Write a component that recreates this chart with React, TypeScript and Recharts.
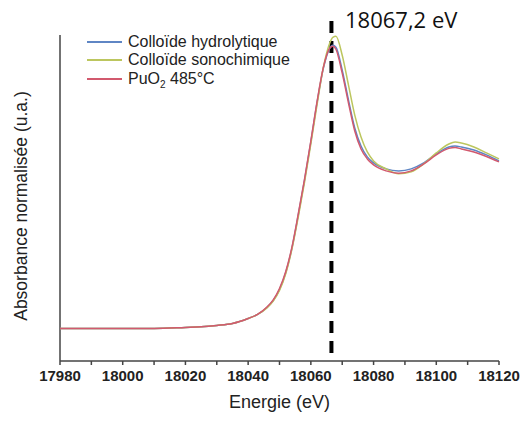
import { LineChart, Line, XAxis, YAxis, ReferenceLine } from 'recharts';

// energies (eV)
const energies = [
  17980, 17990, 18000, 18010, 18020, 18025, 18030, 18035, 18040, 18043,
  18046, 18048, 18050, 18052, 18054, 18056, 18058, 18060, 18062, 18064,
  18066, 18067, 18068, 18070, 18072, 18074, 18076, 18078, 18080, 18084,
  18088, 18092, 18096, 18100, 18104, 18106, 18108, 18112, 18116, 18120,
];

const hydrolytique = [
  0, 0, 0, 0, 0.005, 0.008, 0.015, 0.025, 0.05, 0.07,
  0.105, 0.14, 0.195, 0.28, 0.405, 0.57, 0.745, 0.935, 1.135, 1.305,
  1.405, 1.42, 1.41, 1.295, 1.145, 1.005, 0.915, 0.86, 0.83, 0.8,
  0.79, 0.8, 0.83, 0.875, 0.91, 0.915, 0.91, 0.895, 0.87, 0.84,
];

const sonochimique = [
  0, 0, 0, 0, 0.005, 0.008, 0.015, 0.025, 0.05, 0.07,
  0.103, 0.137, 0.19, 0.275, 0.4, 0.56, 0.735, 0.925, 1.125, 1.31,
  1.43, 1.46, 1.465, 1.37, 1.22, 1.07, 0.96, 0.885, 0.84, 0.8,
  0.775, 0.785, 0.825, 0.88, 0.925, 0.935, 0.93, 0.91, 0.88, 0.85,
];

const puo2 = [
  0, 0, 0, 0, 0.005, 0.008, 0.015, 0.025, 0.05, 0.07,
  0.107, 0.143, 0.2, 0.285, 0.41, 0.575, 0.75, 0.94, 1.14, 1.31,
  1.405, 1.415, 1.4, 1.28, 1.13, 0.99, 0.9, 0.85, 0.82, 0.79,
  0.778, 0.79, 0.825, 0.87, 0.903, 0.907, 0.9, 0.885, 0.862, 0.835,
];

const xTicks = [17980, 17990, 18000, 18010, 18020, 18030, 18040, 18050, 18060, 18070, 18080, 18090, 18100, 18110, 18120];
const edgeEnergy = 18067.2;

const series = [
  { key: 'hydro', name: 'Colloïde hydrolytique', color: '#5f86c4' },
  { key: 'sono', name: 'Colloïde sonochimique', color: '#bcc65e' },
  { key: 'puo2', name: 'PuO2 485°C', color: '#d2596e' },
];

const data = energies.map((e, i) => ({
  e,
  hydro: hydrolytique[i],
  sono: sonochimique[i],
  puo2: puo2[i],
}));

const fontAxis = 'Liberation Sans, Arial, sans-serif';

function LegendBox() {
  return (
    <div style={{ position: 'absolute', left: 87, top: 33, fontFamily: fontAxis, fontSize: 16, color: '#222' }}>
      {series.map((s) => (
        <div key={s.key} style={{ display: 'flex', alignItems: 'center', height: 18.3 }}>
          <span style={{ display: 'inline-block', width: 35, height: 2, background: s.color, marginRight: 6 }} />
          {s.key === 'puo2' ? (
            <span>
              PuO<sub style={{ fontSize: 10, verticalAlign: -4, lineHeight: 0 }}>2</sub> 485°C
            </span>
          ) : (
            <span>{s.name}</span>
          )}
        </div>
      ))}
    </div>
  );
}

function EdgeLine(props: any) {
  const top = Math.min(props.y1, props.y2);
  const bottom = Math.max(props.y1, props.y2);
  return (
    <line
      x1={props.x1 - 2}
      x2={props.x2 - 2}
      y1={top - 14}
      y2={bottom - 2}
      stroke="#000"
      strokeWidth={4}
      strokeDasharray="12 8"
    />
  );
}

export default function App() {
  return (
    <div style={{ position: 'absolute', left: 0, top: 0, width: 523, height: 423, background: '#fff' }}>
      <LineChart width={523} height={423} data={data} margin={{ top: 35, right: 24, bottom: 23, left: 60 }}>
        <XAxis
          dataKey="e"
          type="number"
          domain={[17980, 18120]}
          ticks={xTicks}
          interval={0}
          tickFormatter={(v: number) => ((v - 17980) % 20 === 0 ? String(v) : '')}
          tickSize={4}
          tickMargin={5}
          height={39}
          stroke="#444"
          strokeWidth={1.5}
          tick={{ fill: '#222', fontSize: 15, fontWeight: 'bold', fontFamily: fontAxis }}
          label={{ value: 'Energie (eV)', position: 'insideBottom', offset: -8, fill: '#222', fontSize: 18, fontFamily: fontAxis }}
        />
        <YAxis
          type="number"
          domain={[-0.1635, 1.4715]}
          width={0}
          tick={false}
          tickLine={false}
          axisLine={false}
          allowDataOverflow
        />
        <ReferenceLine x={17980} stroke="#444" strokeWidth={1.5} />
        <ReferenceLine x={edgeEnergy} shape={EdgeLine} ifOverflow="visible" />
        {series.map((s) => (
          <Line
            key={s.key}
            type="monotone"
            dataKey={s.key}
            name={s.name}
            stroke={s.color}
            strokeWidth={1.5}
            dot={false}
            isAnimationActive={false}
          />
        ))}
      </LineChart>
      <LegendBox />
      <div
        style={{
          position: 'absolute', left: 21, top: 206, transform: 'translate(-50%, -50%) rotate(-90deg)',
          whiteSpace: 'nowrap', fontFamily: fontAxis, fontSize: 17.5, color: '#222',
        }}
      >
        Absorbance normalisée (u.a.)
      </div>
      <div
        style={{
          position: 'absolute', left: 345, top: 4, fontFamily: '"Open Sans", sans-serif', fontSize: 22, color: '#111',
        }}
      >
        18067,2 eV
      </div>
    </div>
  );
}
